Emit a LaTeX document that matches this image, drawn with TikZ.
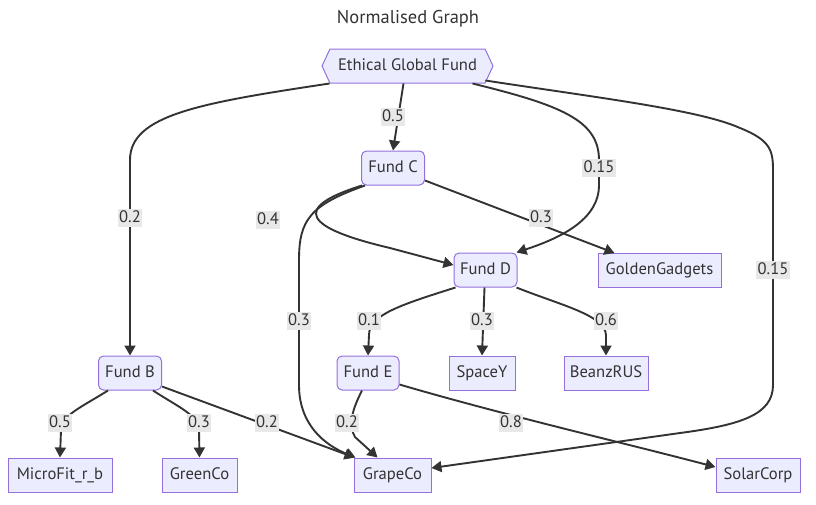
\documentclass[tikz,border=0pt]{standalone}
\usepackage{fontspec}
\setmainfont{PT Sans}
\usetikzlibrary{arrows.meta,shapes.symbols}
\definecolor{nfill}{HTML}{ECECFF}
\definecolor{nborder}{HTML}{9370DB}
\definecolor{ink}{HTML}{333333}
\definecolor{labbg}{HTML}{E8E8E8}
\begin{document}
\begin{tikzpicture}[x=1pt,y=-1pt,
  base/.style={draw=nborder, fill=nfill, line width=1pt, text=ink,
    font=\fontsize{16.6}{19}\selectfont, inner sep=0pt, minimum height=34pt,
    text height=12pt, text depth=3.5pt},
  fund/.style={base, rounded corners=5pt},
  comp/.style={base},
  edge/.style={draw=ink, line width=1.9pt, -{Triangle[length=10pt,width=11pt]}},
  lab/.style={fill=labbg, text=ink, font=\fontsize{16.6}{19}\selectfont,
    inner xsep=1.5pt, inner ysep=0.8pt, text height=12pt, text depth=3.5pt}]
\useasboundingbox (0,0) rectangle (816,504);
% title
\node[text=ink, font=\fontsize{18.5}{21}\selectfont] (title) at (408,19) {Normalised Graph};
% nodes
\node[base, signal, signal to=west and east, signal pointer angle=130,
      minimum width=171pt] (egf) at (407.5,66) {Ethical Global Fund};
\node[fund, minimum width=63pt] (fundC) at (393,168) {Fund C};
\node[fund, minimum width=63pt] (fundD) at (485.5,270) {Fund D};
\node[comp, minimum width=123pt] (gg) at (659.5,270.5) {GoldenGadgets};
\node[fund, minimum width=63pt] (fundB) at (130,373) {Fund B};
\node[fund, minimum width=62pt] (fundE) at (368,373) {Fund E};
\node[comp, minimum width=66pt] (spacey) at (482,373) {SpaceY};
\node[comp, minimum width=84pt] (beanz) at (606,373) {BeanzRUS};
\node[comp, minimum width=104pt] (micro) at (60,475) {MicroFit\_r\_b};
\node[comp, minimum width=75pt] (green) at (199.5,475) {GreenCo};
\node[comp, minimum width=77pt] (grape) at (392.5,475) {GrapeCo};
\node[comp, minimum width=84pt] (solar) at (758,475) {SolarCorp};
% edges
\draw[edge] ([xshift=-78pt]egf.south) .. controls (200,103) and (130,115) .. (130,160) -- (fundB.north);
\draw[edge] ([xshift=-4pt]egf.south) -- (fundC.north);
\draw[edge] ([xshift=65pt]egf.south) .. controls (560,105) and (599,120) .. (599,160) -- (599,185)
  .. controls (599,220) and (560,238) .. ([xshift=-1pt]fundD.north east);
\draw[edge] ([yshift=3pt]egf.south east) .. controls (600,98) and (700,110) .. (740,128)
  .. controls (770,140) and (773,150) .. (773,170) -- (773,385)
  .. controls (773,415) and (740,425) .. (680,433) -- ([yshift=7pt]grape.east);
\draw[edge] ([xshift=1pt]fundC.south west) .. controls (290,208) and (305,228) .. (390,248)
  -- ([yshift=5pt]fundD.west);
\draw[edge] ([xshift=4pt]fundC.south west) .. controls (310,205) and (299,220) .. (299,260)
  -- (299,385) .. controls (299,425) and (325,445) .. ([xshift=2pt]grape.north west);
\draw[edge] ([yshift=5pt]fundC.south east) -- ([xshift=17pt]gg.north west);
\draw[edge] ([xshift=2pt]fundD.south west) .. controls (400,305) and (369,315) .. (369,335) -- (fundE.north);
\draw[edge] ([xshift=-1pt]fundD.south) -- (spacey.north);
\draw[edge] ([xshift=-1pt]fundD.south east) .. controls (560,305) and (605,315) .. (606,335) -- (beanz.north);
\draw[edge] ([xshift=-22pt]fundB.south) .. controls (80,408) and (62,415) .. (61,430) -- (micro.north);
\draw[edge] ([xshift=23pt]fundB.south) .. controls (180,408) and (198,415) .. (199,430) -- (green.north);
\draw[edge] ([yshift=4pt]fundB.south east) -- ([xshift=1pt]grape.north west);
\draw[edge] ([xshift=-6pt]fundE.south) .. controls (352,410) and (348,425) .. (355,437) -- ([xshift=-15pt]grape.north);
\draw[edge] ([yshift=6pt]fundE.south east) .. controls (500,414) and (620,442) .. ([yshift=8pt]solar.west);
% labels
\node[lab] (l1) at (130,218) {0.2};
\node[lab] (l2) at (393,117) {0.5};
\node[lab] (l3) at (599,168) {0.15};
\node[lab] (l4) at (773,270) {0.15};
\node[lab] (l5) at (268,220) {0.4};
\node[lab] (l6) at (541,218) {0.3};
\node[lab] (l7) at (299,321) {0.3};
\node[lab] (l8) at (369,321) {0.1};
\node[lab] (l9) at (482,321) {0.3};
\node[lab] (l10) at (606,321) {0.6};
\node[lab] (l11) at (60,423) {0.5};
\node[lab] (l12) at (199,423) {0.3};
\node[lab] (l13) at (267,423) {0.2};
\node[lab] (l14) at (347,423) {0.2};
\node[lab] (l15) at (511,423) {0.8};
\end{tikzpicture}
\end{document}
